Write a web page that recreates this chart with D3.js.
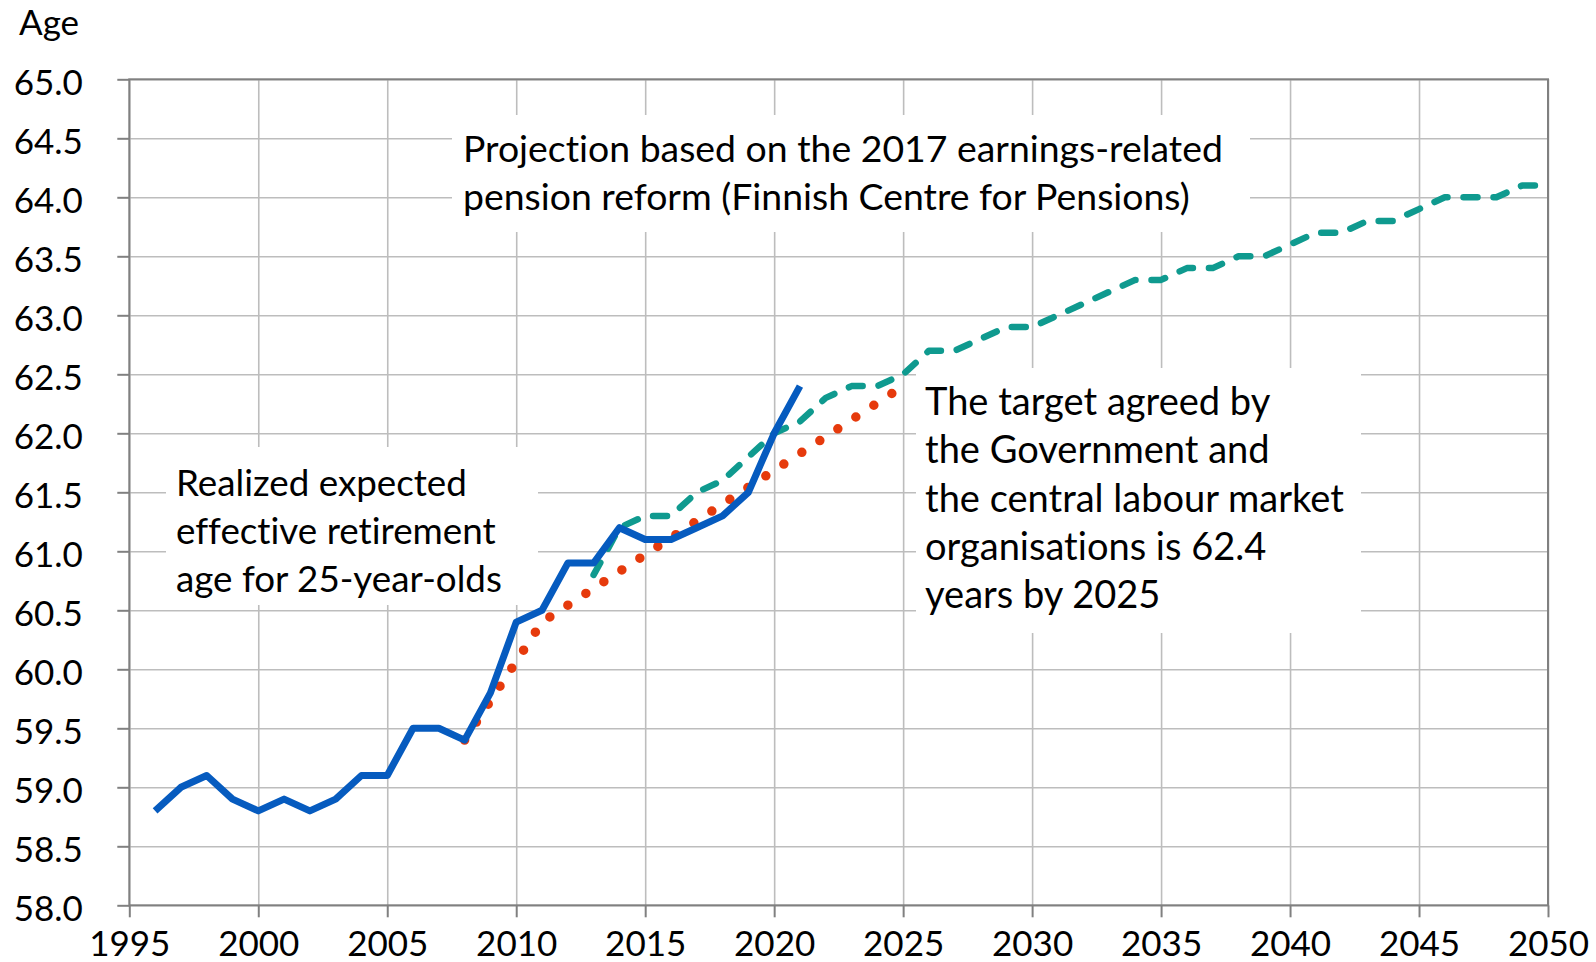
<!DOCTYPE html>
<html>
<head>
<meta charset="utf-8">
<script src="https://cdn.jsdelivr.net/npm/d3@7/dist/d3.min.js"></script>
<style>
    body { margin: 0; background: #fff; }
    #chart { width: 1596px; height: 962px; }
    svg text { font-family: Lato, "Noto Sans", sans-serif; fill: #000; font-variant-ligatures: none; }
</style>
</head>
<body>
<div id="chart"></div>
<script>
// realized expected effective retirement age for 25-year-olds
const realizedYears = [1996, 1997, 1998, 1999, 2000, 2001, 2002, 2003, 2004, 2005, 2006, 2007, 2008,
    2009, 2010, 2011, 2012, 2013, 2014, 2015, 2016, 2017, 2018, 2019, 2020, 2021];
const realizedAge = [58.8, 59.0, 59.1, 58.9, 58.8, 58.9, 58.8, 58.9, 59.1, 59.1, 59.5, 59.5, 59.4,
    59.8, 60.4, 60.5, 60.9, 60.9, 61.2, 61.1, 61.1, 61.2, 61.3, 61.5, 62.0, 62.4];

// projection, 2017 earnings-related pension reform
const projectionYears = [2013, 2014, 2015, 2016, 2017, 2018, 2019, 2020, 2021, 2022, 2023, 2024, 2025,
    2026, 2027, 2028, 2029, 2030, 2031, 2032, 2033, 2034, 2035, 2036, 2037, 2038, 2039, 2040,
    2041, 2042, 2043, 2044, 2045, 2046, 2047, 2048, 2049, 2050];
const projectionAge = [60.8, 61.2, 61.3, 61.3, 61.5, 61.6, 61.8, 62.0, 62.1, 62.3, 62.4, 62.4, 62.5,
    62.7, 62.7, 62.8, 62.9, 62.9, 63.0, 63.1, 63.2, 63.3, 63.3, 63.4, 63.4, 63.5, 63.5, 63.6,
    63.7, 63.7, 63.8, 63.8, 63.9, 64.0, 64.0, 64.0, 64.1, 64.1];

// target path agreed by the government and labour market organisations
const targetYears = [2008, 2011, 2025];
const targetAge = [59.4, 60.4, 62.4];

const xTicks = [1995, 2000, 2005, 2010, 2015, 2020, 2025, 2030, 2035, 2040, 2045, 2050];
const yTicks = [58.0, 58.5, 59.0, 59.5, 60.0, 60.5, 61.0, 61.5, 62.0, 62.5, 63.0, 63.5, 64.0, 64.5, 65.0];

const notes = [
    { lines: ['Projection based on the 2017 earnings-related', 'pension reform (Finnish Centre for Pensions)'],
      box: [452, 115, 1250, 232], textX: 463, firstBase: 161.7, fitWidth: 760 },
    { lines: ['Realized expected', 'effective retirement', 'age for 25-year-olds'],
      box: [166, 447, 538, 605], textX: 176, firstBase: 495.5, fitWidth: 326 },
    { lines: ['The target agreed by', 'the Government and', 'the central labour market',
              'organisations is 62.4', 'years by 2025'],
      box: [916, 368, 1361, 633], textX: 925, firstBase: 415, fitWidth: 419 }
];

class RetirementChart {
    constructor(containerId) {
        this.container = document.getElementById(containerId);
        this.margin = { top: 79.3, right: 48, bottom: 56.7, left: 129.3 };
        this.lineGap = 48.3;
        this.render();
    }

    render() {
        const W = 1596, H = 962;
        const width = W - this.margin.left - this.margin.right;
        const height = H - this.margin.top - this.margin.bottom;

        const svg = d3.select(this.container)
            .append('svg')
            .attr('width', W)
            .attr('height', H);

        const g = svg.append('g')
            .attr('transform', `translate(${this.margin.left},${this.margin.top})`);

        const x = d3.scaleLinear().domain([1995, 2050]).range([0, width]);
        const y = d3.scaleLinear().domain([58, 65]).range([height, 0]);

        // grid
        g.append('g')
            .attr('class', 'grid')
            .call(d3.axisLeft(y).tickValues(yTicks).tickSize(-width).tickFormat(''))
            .call(s => s.select('.domain').remove())
            .selectAll('line')
            .attr('stroke', '#bdbdbd')
            .attr('stroke-width', 1.6);

        g.append('g')
            .attr('class', 'grid')
            .attr('transform', `translate(0,${height})`)
            .call(d3.axisBottom(x).tickValues(xTicks).tickSize(-height).tickFormat(''))
            .call(s => s.select('.domain').remove())
            .selectAll('line')
            .attr('stroke', '#bdbdbd')
            .attr('stroke-width', 1.6);

        // text boxes sit on top of the grid
        notes.forEach(n => {
            svg.append('rect')
                .attr('x', n.box[0])
                .attr('y', n.box[1])
                .attr('width', n.box[2] - n.box[0])
                .attr('height', n.box[3] - n.box[1])
                .attr('fill', '#fff');
        });

        // frame
        g.append('rect')
            .attr('width', width)
            .attr('height', height)
            .attr('fill', 'none')
            .attr('stroke', '#808080')
            .attr('stroke-width', 2);

        const yAxis = g.append('g')
            .call(d3.axisLeft(y).tickValues(yTicks).tickSize(12).tickPadding(34.5)
                .tickFormat(d3.format('.1f')));
        yAxis.selectAll('line').attr('stroke', '#808080').attr('stroke-width', 2);
        yAxis.select('.domain').remove();
        yAxis.selectAll('text')
            .attr('dy', '0.42em')
            .style('font-size', '35px')
            .style('fill', '#000');

        const xAxis = g.append('g')
            .attr('transform', `translate(0,${height})`)
            .call(d3.axisBottom(x).tickValues(xTicks).tickSize(12).tickPadding(14)
                .tickFormat(d3.format('d')));
        xAxis.selectAll('line').attr('stroke', '#808080').attr('stroke-width', 2);
        xAxis.select('.domain').remove();
        xAxis.selectAll('text')
            .style('font-size', '35px')
            .style('fill', '#000');

        svg.append('text')
            .attr('x', 19)
            .attr('y', 35)
            .style('font-size', '35px')
            .text('Age');

        // notes
        notes.forEach(n => {
            const t = svg.append('text').style('font-size', '40px');
            n.lines.forEach((line, i) => {
                t.append('tspan')
                    .attr('x', n.textX)
                    .attr('y', n.firstBase + i * this.lineGap)
                    .text(line);
            });
            let widest = 0;
            t.selectAll('tspan').each(function() {
                widest = Math.max(widest, this.getComputedTextLength());
            });
            t.style('font-size', (40 * n.fitWidth / widest) + 'px');
        });

        const line = d3.line()
            .x(d => x(d.year))
            .y(d => y(d.value));

        const toPoints = (years, vals) => years.map((yr, i) => ({ year: yr, value: vals[i] }));

        g.append('path')
            .datum(toPoints(projectionYears, projectionAge))
            .attr('d', line)
            .attr('fill', 'none')
            .attr('stroke', '#0f9a8f')
            .attr('stroke-width', 6.5)
            .attr('stroke-linecap', 'round')
            .attr('stroke-linejoin', 'round')
            .attr('stroke-dasharray', '14 16');

        g.append('path')
            .datum(toPoints(targetYears, targetAge))
            .attr('d', line)
            .attr('fill', 'none')
            .attr('stroke', '#e63a0c')
            .attr('stroke-width', 9.5)
            .attr('stroke-linecap', 'round')
            .attr('stroke-dasharray', '0 21.5');

        g.append('path')
            .datum(toPoints(realizedYears, realizedAge))
            .attr('d', line)
            .attr('fill', 'none')
            .attr('stroke', '#065bbf')
            .attr('stroke-width', 7)
            .attr('stroke-linejoin', 'round');
    }
}

new RetirementChart('chart');
</script>
</body>
</html>
